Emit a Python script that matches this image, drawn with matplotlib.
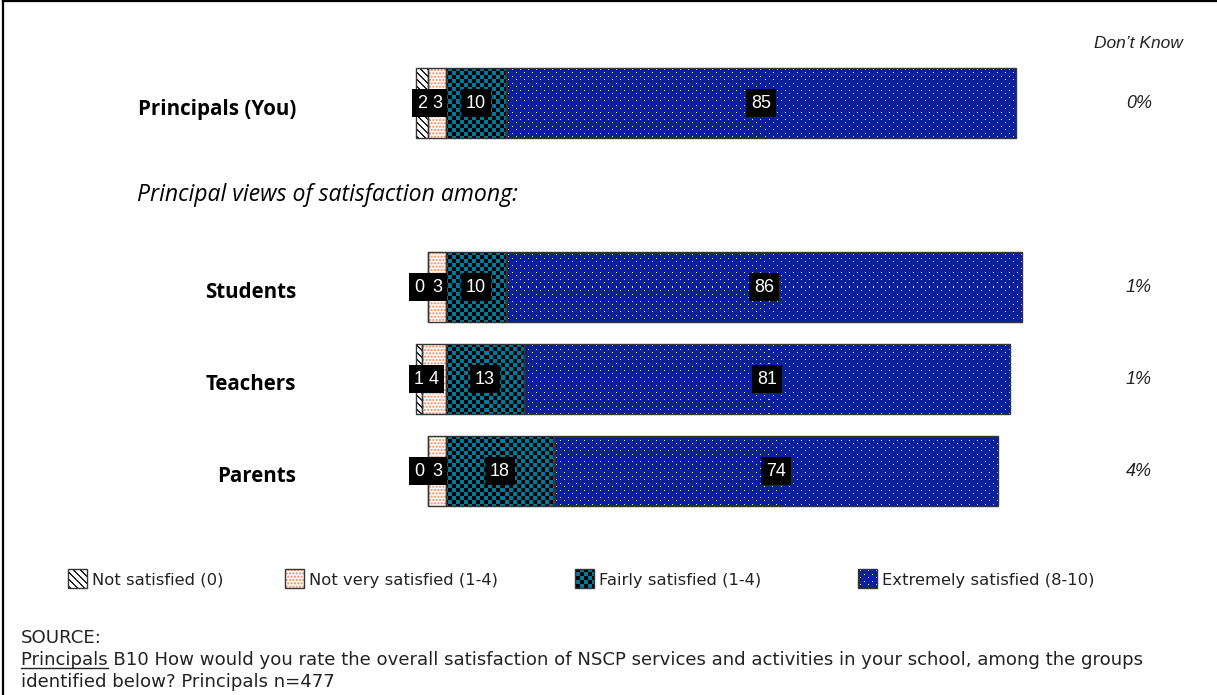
import numpy as np
import matplotlib
matplotlib.use("Agg")
import matplotlib.pyplot as plt
from matplotlib.colors import to_rgb
from matplotlib.patches import Rectangle
from matplotlib.lines import Line2D

# ---------------- data ----------------
groups = ["Principals (You)", "Students", "Teachers", "Parents"]
not_satisfied = [2, 0, 1, 0]
not_very_satisfied = [3, 3, 4, 3]
fairly_satisfied = [10, 10, 13, 18]
extremely_satisfied = [85, 86, 81, 74]
dont_know = ["0%", "1%", "1%", "4%"]
series_names = ["Not satisfied (0)", "Not very satisfied (1-4)",
                "Fairly satisfied (1-4)", "Extremely satisfied (8-10)"]
row_pos = [0, 2, 3, 4]
subtitle = "Principal views of satisfaction among:"
dk_title = "Don\u2019t Know"
source_title = "SOURCE:"
source_underlined = "Principals"
source_line2 = "Principals B10 How would you rate the overall satisfaction of NSCP services and activities in your school, among the groups"
source_line3 = "identified below? Principals n=477"

# ---------------- layout ----------------
W, H, DPI = 1217, 695, 100
fig = plt.figure(figsize=(W / DPI, H / DPI), dpi=DPI)
ax = fig.add_axes([0, 0, 1, 1])
ZERO_PX, UNIT_PX, ROW0_PX, SLOT_PX = 446, 6.0, 103, 92
XLIM = (-ZERO_PX / UNIT_PX, (W - ZERO_PX) / UNIT_PX)
YLIM = ((H - ROW0_PX) / SLOT_PX, -ROW0_PX / SLOT_PX)
BAR_H = 0.77
EDGE = "#353535"


def xd(px):
    return (px - ZERO_PX) / UNIT_PX


def yd(py):
    return (py - ROW0_PX) / SLOT_PX


rr, cc = np.mgrid[0:H, 0:W]


def texture(bg, fg, mask):
    img = np.empty((H, W, 3))
    img[:] = to_rgb(bg)
    img[mask] = to_rgb(fg)
    return img


TEX = {
    0: texture("white", "#222222", ((cc - rr) % 7) < 2),
    2: texture("#00789a", "black", ((rr // 4 + cc // 4) % 2 == 0)),
    3: texture("#0b2197", "#e0e6ff", ((rr % 7 == 0) & (cc % 8 == 0)) | ((rr % 7 == 3) & (cc % 8 == 4))),
}
NV_BG, NV_DOT, NV_HATCH = "#fff8f4", "#ea8a62", "....."


def fill_patch(patch, k):
    if k == 1:
        return
    im = ax.imshow(TEX[k], extent=(XLIM[0], XLIM[1], YLIM[0], YLIM[1]), origin="upper",
                   interpolation="nearest", aspect="auto", zorder=2)
    im.set_clip_path(patch)


ns = np.array(not_satisfied, float)
nv = np.array(not_very_satisfied, float)
fs = np.array(fairly_satisfied, float)
ex = np.array(extremely_satisfied, float)
lefts = [-(nv + ns), -nv, np.zeros_like(fs), fs]
widths = [ns, nv, fs, ex]
values = [not_satisfied, not_very_satisfied, fairly_satisfied, extremely_satisfied]

for k in range(4):
    if k == 1:
        ax.barh(row_pos, widths[k], left=lefts[k], height=BAR_H, facecolor=NV_BG,
                edgecolor=NV_DOT, hatch=NV_HATCH, linewidth=0, zorder=2)
    bars = ax.barh(row_pos, widths[k], left=lefts[k], height=BAR_H, facecolor="none",
                   edgecolor=EDGE, linewidth=1.0, zorder=3)
    for b in bars:
        fill_patch(b, k)

lab_kw = dict(ha="center", va="center", color="white", fontsize=13, family="Liberation Sans",
              bbox=dict(boxstyle="square,pad=0.28", fc="black", ec="none"), zorder=5)
for i, y in enumerate(row_pos):
    for k in range(4):
        v = values[k][i]
        if v > 0:
            x = lefts[k][i] + widths[k][i] / 2
        else:
            x = lefts[k][i] - 1.5
        ax.text(x, y, str(v), **lab_kw)

# category labels and Don't Know column
for i, y in enumerate(row_pos):
    ax.text(xd(296), y + 6 / SLOT_PX, groups[i], ha="right", va="center",
            family="Open Sans", fontweight="bold", fontsize=14.8, color="black")
    ax.text(xd(1152), y, dont_know[i], ha="right", va="center",
            family="Liberation Sans", style="italic", fontsize=13, color="#222222")

ax.text(xd(137), 1, subtitle, ha="left", va="center", family="Open Sans", style="italic",
        fontsize=16.6, color="black")
ax.text(xd(1183), yd(43), dk_title, ha="right", va="center", family="Liberation Sans",
        style="italic", fontsize=12.5, color="#222222")

# legend (manual)
icon_px = [68, 285, 575, 858]
ICON = 19
for k, px in enumerate(icon_px):
    if k == 1:
        ax.add_patch(Rectangle((xd(px), yd(569)), ICON / UNIT_PX, ICON / SLOT_PX,
                               facecolor=NV_BG, edgecolor=NV_DOT, hatch=NV_HATCH,
                               linewidth=0, zorder=2))
    r = Rectangle((xd(px), yd(569)), ICON / UNIT_PX, ICON / SLOT_PX, facecolor="none",
                  edgecolor=EDGE, linewidth=1.0, zorder=3)
    ax.add_patch(r)
    fill_patch(r, k)
    ax.text(xd(px + 24), yd(580), series_names[k], ha="left", va="center",
            family="DejaVu Sans", fontsize=11.8, color="#222222")

ax.set_xlim(XLIM)
ax.set_ylim(YLIM)
ax.axis("off")


# source text
def fx(px):
    return px / W


def fy(py):
    return 1 - py / H


src_kw = dict(family="DejaVu Sans", fontsize=13.1, color="#222222", ha="left", va="baseline")
fig.text(fx(21), fy(643), source_title, **src_kw)
fig.text(fx(21), fy(665), source_line2, **src_kw)
fig.text(fx(21), fy(687), source_line3, **src_kw)
tmp = fig.text(fx(21), fy(665), source_underlined, **src_kw)
fig.canvas.draw()
bb = tmp.get_window_extent(fig.canvas.get_renderer())
tmp.remove()
fig.add_artist(Line2D([bb.x0 / W, bb.x1 / W], [fy(667.5), fy(667.5)], color="#222222",
                      linewidth=1.0, transform=fig.transFigure))

# frame (left and top edges)
fig.add_artist(Line2D([fx(3), fx(3)], [0, fy(1)], color="black", linewidth=1.6,
                      transform=fig.transFigure))
fig.add_artist(Line2D([fx(3), 1], [fy(1), fy(1)], color="black", linewidth=1.6,
                      transform=fig.transFigure))

fig.savefig("out.png", dpi=DPI)
